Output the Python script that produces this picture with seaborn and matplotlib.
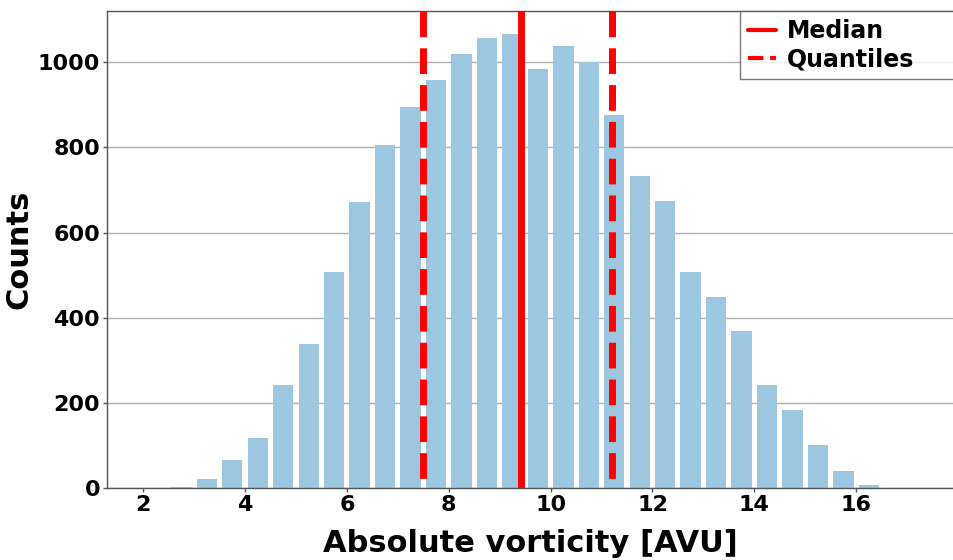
import numpy as np
import pandas as pd
import matplotlib
matplotlib.use("Agg")
import matplotlib.pyplot as plt
import seaborn as sns

# Histogram of absolute vorticity: bin centres (AVU) and counts per bin
bin_centers = [2.25, 2.75, 3.25, 3.75, 4.25, 4.75, 5.25, 5.75, 6.25, 6.75,
               7.25, 7.75, 8.25, 8.75, 9.25, 9.75, 10.25, 10.75, 11.25, 11.75,
               12.25, 12.75, 13.25, 13.75, 14.25, 14.75, 15.25, 15.75, 16.25]
counts = [1, 2, 21, 66, 118, 242, 338, 507, 671, 805,
          895, 959, 1018, 1057, 1066, 983, 1037, 1000, 877, 732,
          673, 507, 449, 370, 242, 183, 101, 41, 8]
bin_width = 0.5

# Summary statistics
median_value = 9.41
quantile_values = [7.50, 11.20]

x_ticks = [2, 4, 6, 8, 10, 12, 14, 16]
y_ticks = [0, 200, 400, 600, 800, 1000]

sns.set_theme(style="white")
plt.rcParams["font.family"] = ["DejaVu Sans"]
plt.rcParams["font.weight"] = "bold"
plt.rcParams["text.color"] = "black"
plt.rcParams["axes.labelcolor"] = "black"
plt.rcParams["xtick.color"] = "black"
plt.rcParams["ytick.color"] = "black"

df = pd.DataFrame({"vorticity": bin_centers, "count": counts})
bin_range = (min(bin_centers) - bin_width / 2, max(bin_centers) + bin_width / 2)

W, H = 954, 560
fig = plt.figure(figsize=(W / 100, H / 100), dpi=100)
ax = fig.add_axes([107 / W, 1 - 488.3 / H, (954 - 107) / W, (488.3 - 11) / H])

sns.histplot(data=df, x="vorticity", weights="count", binwidth=bin_width,
             binrange=bin_range, shrink=0.8, color="#9dc6e0", alpha=1.0,
             edgecolor="none", ax=ax, zorder=2)

# Lines are drawn top-down so the dash pattern starts at the upper edge
ax.axvline(median_value, ymin=1, ymax=0, color="red", lw=5, ls="-",
           label="Median", zorder=3)
for i, q in enumerate(quantile_values):
    ax.axvline(q, ymin=1, ymax=0, color="red", lw=5, ls="--",
               zorder=3, label="Quantiles" if i == 0 else None)

ax.set_xlim(1.29, 17.92)
ax.set_ylim(0, 1120)
ax.set_xticks(x_ticks)
ax.set_yticks(y_ticks)
ax.yaxis.grid(True, color="#b0b0b0", lw=1)
ax.set_axisbelow(True)

for side in ["left", "bottom", "top"]:
    ax.spines[side].set_color("#555555")
    ax.spines[side].set_linewidth(1.0)
ax.spines["right"].set_visible(False)

ax.tick_params(axis="both", which="major", labelsize=16, length=3, pad=2,
               width=1, color="#555555", labelcolor="black",
               bottom=True, left=True)
for lab in ax.get_xticklabels() + ax.get_yticklabels():
    lab.set_fontweight("bold")

ax.set_xlabel("Absolute vorticity [AVU]", fontsize=22, fontweight="bold",
              labelpad=10, color="black")
ax.set_ylabel("Counts", fontsize=22, fontweight="bold", labelpad=3,
              color="black")

# Legend box starts at the upper edge and runs past the right edge of the figure
leg = ax.legend(loc="upper left", mode="expand",
                bbox_to_anchor=(740 / W, 0, 300 / W, 1 - 11 / H),
                bbox_transform=fig.transFigure, borderaxespad=0,
                fancybox=False, frameon=True,
                prop={"weight": "bold", "size": 17},
                handlelength=1.2, handletextpad=0.45, borderpad=0.33,
                labelspacing=0.2)
leg.get_frame().set_edgecolor("#555555")
leg.get_frame().set_linewidth(1.0)
for line in leg.get_lines():
    line.set_linewidth(3)
for t in leg.get_texts():
    t.set_color("black")

fig.savefig("out.png", dpi=100)
